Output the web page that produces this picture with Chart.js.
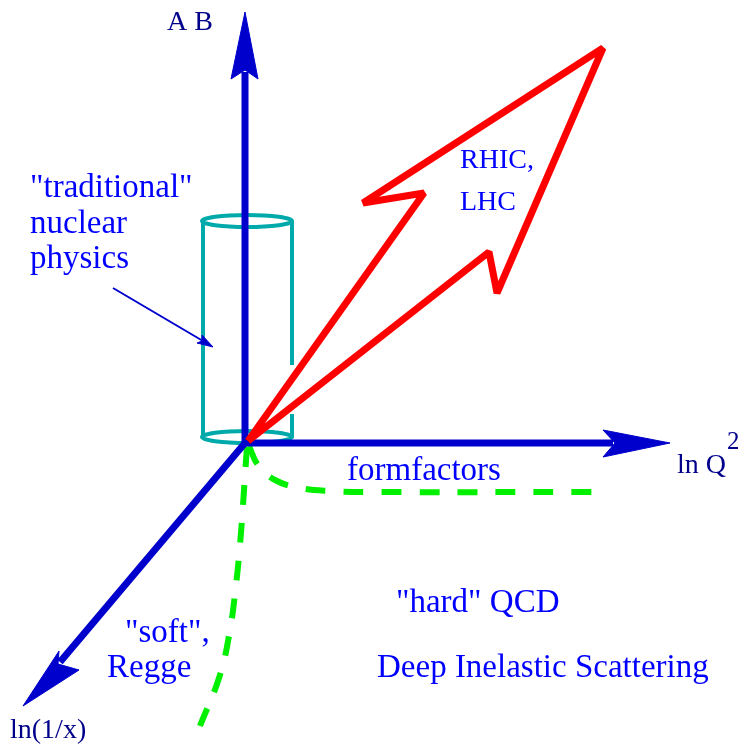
<!DOCTYPE html>
<html><head><meta charset="utf-8">
<script src="https://cdn.jsdelivr.net/npm/chart.js@4.4.1/dist/chart.umd.min.js"></script>
<style>html,body{margin:0;padding:0;background:#fff}#wrap{width:738px;height:744px;position:relative}</style>
</head><body><div id="wrap"><canvas id="c"></canvas></div>
<script>
// Diagram coordinate space: x 0..738, y 0..744 (y grows downward)
const verticalAxisShaft   = [{x:245,y:443},{x:245,y:72}];
const verticalAxisHead    = [{x:245,y:12},{x:231,y:79},{x:245,y:70},{x:258,y:79},{x:245,y:12}];
const horizontalAxisShaft = [{x:245,y:443},{x:613,y:443}];
const horizontalAxisHead  = [{x:670,y:443},{x:603,y:430},{x:615,y:443},{x:603,y:457},{x:670,y:443}];
const depthAxisShaft      = [{x:245,y:443},{x:60,y:662}];
const depthAxisHead       = [{x:23,y:706},{x:59,y:651},{x:58,y:664},{x:79,y:670},{x:23,y:706}];
const redArrow            = [{x:248,y:441},{x:424,y:193},{x:363,y:203},{x:603,y:48},{x:497,y:293},{x:489,y:252},{x:248,y:441}];
const cylinderLeft        = [{x:203,y:221},{x:203,y:437}];
const cylinderRightUpper  = [{x:292,y:221},{x:292,y:365}];
const cylinderRightLower  = [{x:292,y:414},{x:292,y:437}];
const pointerShaft        = [{x:113,y:288},{x:203,y:341}];
const pointerHead         = [{x:213,y:347},{x:197,y:343},{x:202,y:341},{x:202,y:335},{x:213,y:347}];
const formfactorCurve     = [{x:249,y:446},{x:258,y:465},{x:275,y:480},{x:300,y:488},{x:330,y:491},{x:370,y:492},{x:595,y:492}];
const reggeCurve          = [{x:247,y:447},{x:245,y:475},{x:243,y:505},{x:240,y:545},{x:236,y:585},{x:230,y:630},{x:220,y:675},{x:200,y:726}];
const cylinderEllipses    = [{x:247,y:221,rx:45,ry:6},{x:247,y:437,rx:45,ry:6}];
const labelTexts = ['A B','ln Q','2','ln(1/x)','"traditional"','nuclear','physics','RHIC,','LHC','formfactors','"soft",','Regge','"hard" QCD','Deep Inelastic Scattering'];
const labelX     = [167,677,727,10,30,30,30,460,460,347,125,107,396,377];
const labelY     = [30,473,449,738,197,233,268,168,210,480,642,677,612,677];
const labelKind  = ['axis','axis','sup','axis','main','main','main','mid','mid','main','main','main','main','main'];

const BLUE='#0000cd', RED='#ff0000', TEAL='#00aaaa', GREEN='#00f000', NAVY='#00008b', TXT='#0000ff';
const fonts = {axis:'28px "Liberation Serif", "DejaVu Serif", serif', sup:'25px "Liberation Serif", serif', main:'33px "Liberation Serif", "DejaVu Serif", serif', mid:'28px "Liberation Serif", "DejaVu Serif", serif'};
const colors = {axis:NAVY, sup:NAVY, main:TXT, mid:TXT};

function line(data, color, width, order, extra){
  return Object.assign({data, borderColor:color, backgroundColor:color, borderWidth:width, showLine:true, pointRadius:0, fill:false, tension:0, order, borderCapStyle:'butt', borderJoinStyle:'miter'}, extra||{});
}
function head(data, color, order){
  return line(data, color, 1, order, {fill:'shape', backgroundColor:color});
}

const cylinderPlugin = {
  id:'cyl',
  beforeDatasetsDraw(chart){
    const {ctx, scales:{x,y}} = chart;
    ctx.save();
    ctx.strokeStyle = TEAL; ctx.lineWidth = 4;
    cylinderEllipses.forEach(e=>{
      const cx=x.getPixelForValue(e.x), cy=y.getPixelForValue(e.y);
      const rx=Math.abs(x.getPixelForValue(e.x+e.rx)-cx), ry=Math.abs(y.getPixelForValue(e.y+e.ry)-cy);
      ctx.beginPath(); ctx.ellipse(cx,cy,rx,ry,0,0,Math.PI*2); ctx.stroke();
    });
    ctx.restore();
  }
};
const labelPlugin = {
  id:'labels',
  afterDatasetsDraw(chart){
    const {ctx, scales:{x,y}} = chart;
    ctx.save();
    ctx.textAlign='left'; ctx.textBaseline='alphabetic';
    labelTexts.forEach((t,i)=>{
      ctx.font = fonts[labelKind[i]]; ctx.fillStyle = colors[labelKind[i]];
      ctx.fillText(t, x.getPixelForValue(labelX[i]), y.getPixelForValue(labelY[i]));
    });
    ctx.restore();
  }
};

new Chart(document.getElementById('c'), {
  type:'scatter',
  data:{datasets:[
    line(cylinderLeft, TEAL, 4, 9),
    line(cylinderRightUpper, TEAL, 4, 9),
    line(cylinderRightLower, TEAL, 4, 9),
    line(formfactorCurve, GREEN, 6, 8, {tension:0.4, borderDash:[20,18]}),
    line(reggeCurve, GREEN, 6, 8, {tension:0.4, borderDash:[20,18]}),
    line(verticalAxisShaft, BLUE, 7, 6),
    line(horizontalAxisShaft, BLUE, 7, 6),
    line(depthAxisShaft, BLUE, 7, 6),
    head(verticalAxisHead, BLUE, 5),
    head(horizontalAxisHead, BLUE, 5),
    head(depthAxisHead, BLUE, 5),
    line(pointerShaft, BLUE, 2, 5),
    head(pointerHead, BLUE, 5),
    line(redArrow, RED, 7, 1, {borderJoinStyle:'bevel'})
  ]},
  options:{
    responsive:true, maintainAspectRatio:false, animation:false,
    layout:{padding:0},
    plugins:{legend:{display:false}, tooltip:{enabled:false}},
    scales:{
      x:{type:'linear', min:0, max:738, display:false},
      y:{type:'linear', min:0, max:744, reverse:true, display:false}
    }
  },
  plugins:[cylinderPlugin, labelPlugin]
});
</script></body></html>
